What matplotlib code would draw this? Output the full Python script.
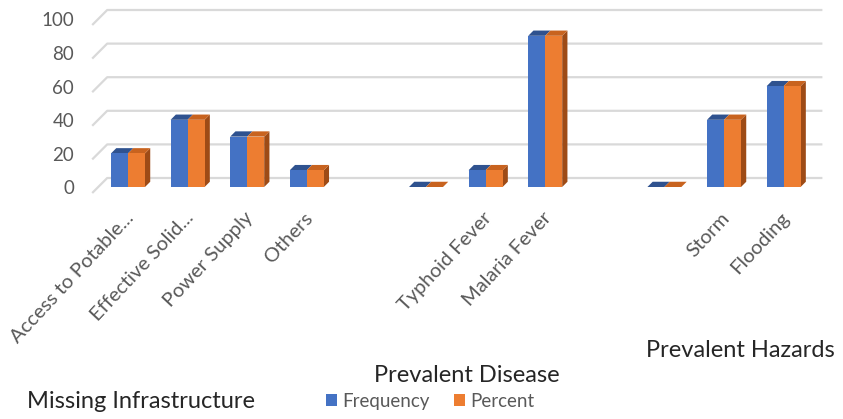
import matplotlib
matplotlib.use("Agg")
import matplotlib.pyplot as plt
from matplotlib.patches import Polygon, Patch

plt.rcParams["font.family"] = ["Lato", "DejaVu Sans"]

# ---- data -------------------------------------------------------------
categories = ["Access to Potable...", "Effective Solid...", "Power Supply", "Others", "",
              "", "Typhoid Fever", "Malaria Fever", "",
              "", "Storm", "Flooding"]
frequency = [20, 40, 30, 10, None, 0, 10, 90, None, 0, 40, 60]
percent = [20, 40, 30, 10, None, 0, 10, 90, None, 0, 40, 60]
series_names = ["Frequency", "Percent"]
groups = ["Missing Infrastructure", "Prevalent Disease", "Prevalent Hazards"]
y_ticks = [0, 20, 40, 60, 80, 100]

# ---- styling ----------------------------------------------------------
BLUE, BLUE_TOP = "#4472C4", "#2F528F"
ORANGE, ORANGE_TOP, ORANGE_SIDE = "#ED7D31", "#C8631F", "#9E4B16"
GRID = "#D9D9D9"
TXT = "#595959"
DARK = "#262626"

W, H = 843, 419
fig = plt.figure(figsize=(W / 100, H / 100), dpi=100)

# floor front edge in pixels
x0, x1 = 92.2, 807.4
yb, yt = 193.0, 25.0
ax = fig.add_axes([x0 / W, 1 - yb / H, (x1 - x0) / W, (yb - yt) / H])
n = len(categories)
ax.set_xlim(-0.5, n - 0.5)
ax.set_ylim(0, 100)
ax.axis("off")

px_x = (x1 - x0) / n
px_y = (yb - yt) / 100.0
DEPTH = 15.0                       # pixel shift from floor front to back wall
ddx, ddy = DEPTH / px_x, DEPTH / px_y


def at(x, v, d):
    return (x + d * ddx, v + d * ddy)


# back-wall gridlines with their slanted floor edge
for t in y_ticks:
    ax.plot([-0.5, -0.5 + ddx, n - 0.5 + ddx], [t, t + ddy, t + ddy],
            color=GRID, lw=1.6, clip_on=False, zorder=1, solid_capstyle="butt")
    ax.text(-0.5 - 18 / px_x, t + 2.4, str(t), ha="right", va="center",
            fontsize=13.5, color=TXT, clip_on=False)

# 3-D columns
d_front, d_back = 0.40, 0.75
half = 0.285


def column(xl, xr, v, front, top, side=None):
    if side is not None:
        ax.add_patch(Polygon([at(xr, 0, d_front), at(xr, 0, d_back),
                              at(xr, v, d_back), at(xr, v, d_front)],
                             closed=True, fc=side, ec="none", zorder=3, clip_on=False))
    ax.add_patch(Polygon([at(xl, v, d_front), at(xr, v, d_front),
                          at(xr, v, d_back), at(xl, v, d_back)],
                         closed=True, fc=top, ec="none", zorder=3, clip_on=False))
    if v > 0:
        ax.add_patch(Polygon([at(xl, 0, d_front), at(xr, 0, d_front),
                              at(xr, v, d_front), at(xl, v, d_front)],
                             closed=True, fc=front, ec="none", zorder=4, clip_on=False))


for i, (f, p) in enumerate(zip(frequency, percent)):
    if f is not None:
        column(i - half, i, f, BLUE, BLUE_TOP)
    if p is not None:
        column(i, i + half, p, ORANGE, ORANGE_TOP, ORANGE_SIDE)

# category labels
for i, c in enumerate(categories):
    if c:
        ax.text(i + 9 / px_x, -(215 - yb) / px_y, c, rotation=47,
                rotation_mode="anchor", ha="right", va="center",
                fontsize=14.5, color=TXT, clip_on=False)

# group labels
group_pos = [(141, 401), (467, 375), (740, 350)]
for g, (gx, gy) in zip(groups, group_pos):
    fig.text(gx / W, 1 - gy / H, g, ha="center", va="center",
             fontsize=17, color=DARK)

# legend
handles = [Patch(fc=BLUE, ec="none"), Patch(fc=ORANGE, ec="none")]
leg = fig.legend(handles, series_names, loc="center",
                 bbox_to_anchor=(430 / W, 1 - 401 / H), ncol=2, frameon=False,
                 fontsize=13.5, handlelength=0.6, handleheight=0.6,
                 handletextpad=0.25, columnspacing=1.3, borderpad=0)
for t in leg.get_texts():
    t.set_color(TXT)

fig.savefig("out.png", dpi=100, facecolor="white")
